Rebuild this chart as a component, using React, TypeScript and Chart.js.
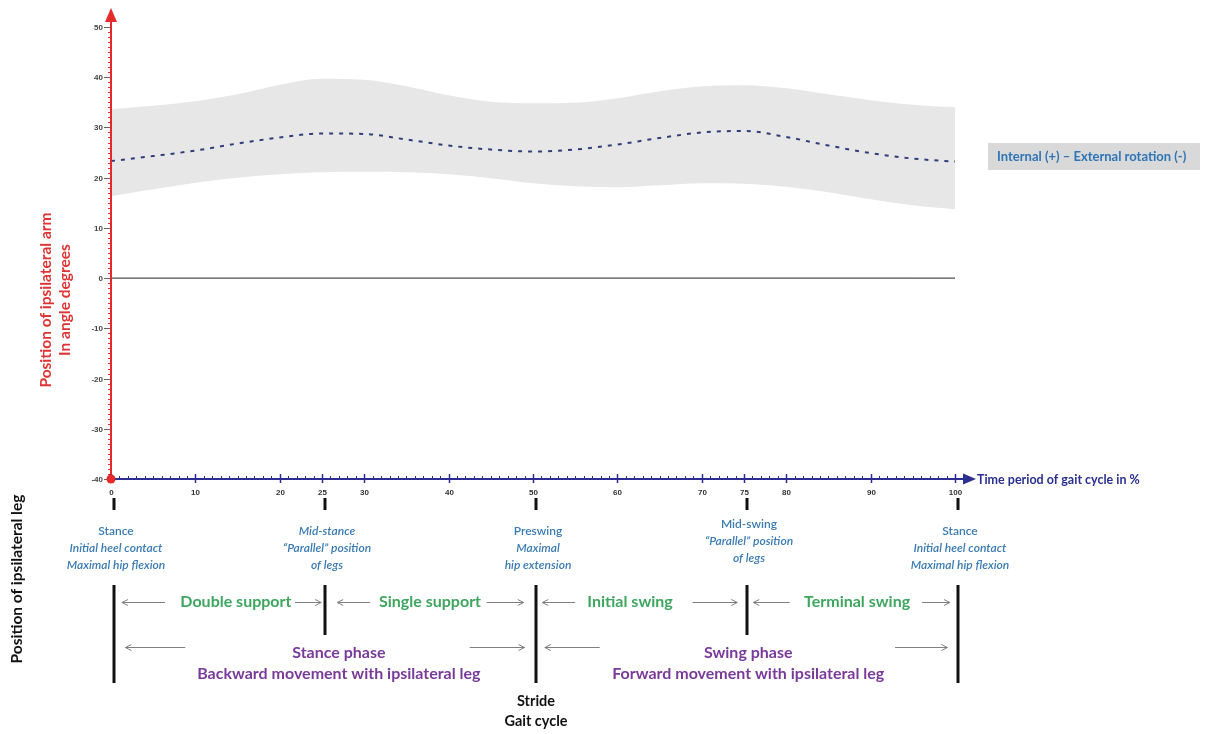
import React, { useEffect, useRef } from "react";
import { Chart, registerables } from "chart.js";

Chart.register(...registerables);

// ---- data ----
const gaitPercent = [0, 5, 10, 15, 20, 25, 30, 35, 40, 45, 50, 55, 60, 65, 70, 75, 80, 85, 90, 95, 100];
const meanRotation = [23.3, 24.3, 25.4, 26.8, 28.0, 28.8, 28.7, 27.6, 26.4, 25.6, 25.2, 25.6, 26.6, 27.9, 29.0, 29.3, 28.1, 26.4, 24.9, 23.8, 23.2];
const upperRotation = [33.6, 34.3, 35.2, 36.6, 38.5, 39.7, 39.5, 38.2, 36.4, 35.1, 34.8, 34.9, 35.8, 37.2, 38.2, 38.4, 37.8, 36.6, 35.4, 34.5, 34.0];
const lowerRotation = [16.3, 17.7, 19.0, 20.0, 20.7, 21.1, 21.2, 21.1, 20.7, 19.9, 18.9, 18.3, 18.1, 18.5, 18.9, 18.8, 18.2, 17.1, 15.7, 14.5, 13.7];

const yTickLabels = [50, 40, 30, 20, 10, 0, -10, -20, -30, -40];
const xTickLabels = [0, 10, 20, 25, 30, 40, 50, 60, 70, 75, 80, 90, 100];

const eventPositions = [0, 25, 50, 75, 100];
const eventTexts: { lines: string[]; italic: boolean[]; up: boolean }[] = [
  { lines: ["Stance", "Initial heel contact", "Maximal hip flexion"], italic: [false, true, true], up: false },
  { lines: ["Mid-stance", "\u201CParallel\u201D position", "of legs"], italic: [true, true, true], up: false },
  { lines: ["Preswing", "Maximal", "hip extension"], italic: [false, true, true], up: false },
  { lines: ["Mid-swing", "\u201CParallel\u201D position", "of legs"], italic: [false, true, true], up: true },
  { lines: ["Stance", "Initial heel contact", "Maximal hip flexion"], italic: [false, true, true], up: false },
];

const supportLabels = ["Double support", "Single support", "Initial swing", "Terminal swing"];
const supportCenters = [14.8, 37.8, 61.5, 88.4];
const phaseTitles = ["Stance phase", "Swing phase"];
const phaseSubtitles = ["Backward movement with ipsilateral leg", "Forward movement with ipsilateral leg"];
const phaseCenters = [27.0, 75.5];
const row1Arrows: [number, number][] = [[6.4, 1.3], [21.8, 24.9], [30.7, 26.8], [44.5, 48.9], [55.0, 51.1], [68.9, 74.2], [80.4, 76.1], [96.1, 99.4]];
const row2Arrows: [number, number][] = [[8.8, 1.7], [42.5, 49.0], [57.9, 51.4], [92.9, 99.1]];

const FONT = "Lato, 'Open Sans', sans-serif";

const decorPlugin = {
  id: "gaitDecor",
  afterDatasetsDraw(chart: any) {
    const { ctx, scales } = chart;
    const xs = scales.x;
    const ys = scales.y;
    const x0 = xs.getPixelForValue(0);
    const yb = ys.getPixelForValue(-40);
    const yTop = ys.getPixelForValue(50);
    const red = "#e52a2a";
    const navy = "#2b2f8f";
    ctx.save();

    // ---- y axis ----
    ctx.strokeStyle = red;
    ctx.lineWidth = 2;
    ctx.beginPath();
    ctx.moveTo(x0, yb);
    ctx.lineTo(x0, yTop - 12);
    ctx.stroke();
    ctx.fillStyle = red;
    ctx.beginPath();
    ctx.moveTo(x0, yTop - 19);
    ctx.lineTo(x0 - 6, yTop - 5);
    ctx.lineTo(x0 + 6, yTop - 5);
    ctx.closePath();
    ctx.fill();
    ctx.lineWidth = 1;
    for (let v = -40; v <= 50; v++) {
      const py = Math.round(ys.getPixelForValue(v)) + 0.5;
      ctx.strokeStyle = red;
      ctx.beginPath();
      ctx.moveTo(x0 - 3, py);
      ctx.lineTo(x0 + 1, py);
      ctx.stroke();
    }
    ctx.font = `bold 8px 'Liberation Sans', Arial, sans-serif`;
    ctx.textAlign = "right";
    ctx.textBaseline = "middle";
    yTickLabels.forEach((v) => {
      const py = Math.round(ys.getPixelForValue(v)) + 0.5;
      ctx.strokeStyle = "#666";
      ctx.beginPath();
      ctx.moveTo(x0 - 7, py);
      ctx.lineTo(x0 - 1, py);
      ctx.stroke();
      ctx.fillStyle = "#444";
      ctx.fillText(String(v), x0 - 8, py);
    });

    // ---- x axis ----
    const xEnd = xs.getPixelForValue(100);
    ctx.strokeStyle = navy;
    ctx.lineWidth = 2;
    ctx.beginPath();
    ctx.moveTo(x0, yb);
    ctx.lineTo(xEnd + 10, yb);
    ctx.stroke();
    ctx.fillStyle = navy;
    ctx.beginPath();
    ctx.moveTo(xEnd + 21, yb);
    ctx.lineTo(xEnd + 8, yb - 5.5);
    ctx.lineTo(xEnd + 8, yb + 5.5);
    ctx.closePath();
    ctx.fill();
    ctx.lineWidth = 1;
    for (let v = 0; v <= 100; v++) {
      const px = Math.round(xs.getPixelForValue(v)) + 0.5;
      ctx.beginPath();
      ctx.moveTo(px, yb - 3);
      ctx.lineTo(px, yb);
      ctx.stroke();
    }
    ctx.font = `bold 8px 'Liberation Sans', Arial, sans-serif`;
    ctx.textAlign = "center";
    ctx.textBaseline = "middle";
    xTickLabels.forEach((v) => {
      const px = Math.round(xs.getPixelForValue(v)) + 0.5;
      ctx.strokeStyle = navy;
      ctx.lineWidth = 1.5;
      ctx.beginPath();
      ctx.moveTo(px, yb - 5);
      ctx.lineTo(px, yb + 4);
      ctx.stroke();
      ctx.fillStyle = "#333";
      ctx.fillText(String(v), px, yb + 14);
    });
    ctx.fillStyle = navy;
    ctx.font = `bold 12.5px ${FONT}`;
    ctx.textAlign = "left";
    ctx.fillText("Time period of gait cycle in %", xEnd + 22, yb + 1);

    // origin dot
    ctx.fillStyle = red;
    ctx.beginPath();
    ctx.arc(x0, yb, 4.5, 0, Math.PI * 2);
    ctx.fill();

    // ---- axis titles ----
    ctx.save();
    ctx.translate(46, 300);
    ctx.rotate(-Math.PI / 2);
    ctx.fillStyle = "#e03434";
    ctx.font = `bold 15.5px ${FONT}`;
    ctx.textAlign = "center";
    ctx.fillText("Position of ipsilateral arm", 0, 0);
    ctx.fillText("In angle degrees", 0, 19);
    ctx.restore();

    ctx.save();
    ctx.translate(17, 579);
    ctx.rotate(-Math.PI / 2);
    ctx.fillStyle = "#111";
    ctx.font = `bold 15.5px ${FONT}`;
    ctx.textAlign = "center";
    ctx.fillText("Position of ipsilateral leg", 0, 0);
    ctx.restore();

    // ---- legend box ----
    ctx.fillStyle = "#d9d9d9";
    ctx.fillRect(988, 143, 212, 27);
    ctx.fillStyle = "#2e75b6";
    ctx.font = `bold 13px ${FONT}`;
    ctx.textAlign = "left";
    ctx.fillText("Internal (+) \u2013 External rotation (-)", 997, 157);

    // ---- event markers and texts ----
    eventPositions.forEach((v, i) => {
      const px = xs.getPixelForValue(v) + 3;
      ctx.fillStyle = "#111";
      ctx.fillRect(px - 1.5, 498, 3, 12);
      const t = eventTexts[i];
      const baseY = t.up ? 524 : 531;
      t.lines.forEach((ln, j) => {
        ctx.font = `${t.italic[j] ? "italic " : ""}600 12px ${FONT}`;
        ctx.fillStyle = "#3b7bb3";
        ctx.textAlign = "center";
        ctx.fillText(ln, px + 2, baseY + j * 17);
      });
      const tall = v % 50 === 0;
      ctx.fillStyle = "#111";
      ctx.fillRect(px - 1.5, 585, 3, tall ? 98 : 50);
    });

    // ---- arrows ----
    const arrow = (a: number, b: number, py: number) => {
      const pa = xs.getPixelForValue(a);
      const pb = xs.getPixelForValue(b);
      ctx.strokeStyle = "#7f7f7f";
      ctx.lineWidth = 1;
      ctx.beginPath();
      ctx.moveTo(pa, py);
      ctx.lineTo(pb, py);
      ctx.stroke();
      const d = pb > pa ? -1 : 1;
      ctx.beginPath();
      ctx.moveTo(pb + d * 6, py - 3);
      ctx.lineTo(pb, py);
      ctx.lineTo(pb + d * 6, py + 3);
      ctx.stroke();
    };
    row1Arrows.forEach(([a, b]) => arrow(a, b, 602.5));
    row2Arrows.forEach(([a, b]) => arrow(a, b, 647.5));

    ctx.textAlign = "center";
    ctx.font = `bold 16px ${FONT}`;
    ctx.fillStyle = "#3fa65f";
    supportLabels.forEach((s, i) => ctx.fillText(s, xs.getPixelForValue(supportCenters[i]), 602));
    ctx.font = `bold 16px ${FONT}`;
    ctx.fillStyle = "#7a3a9a";
    phaseTitles.forEach((s, i) => ctx.fillText(s, xs.getPixelForValue(phaseCenters[i]), 653));
    phaseSubtitles.forEach((s, i) => ctx.fillText(s, xs.getPixelForValue(phaseCenters[i]), 674));

    ctx.fillStyle = "#111";
    ctx.font = `bold 14.5px ${FONT}`;
    const pm = xs.getPixelForValue(50) + 3;
    ctx.fillText("Stride", pm, 701);
    ctx.fillText("Gait cycle", pm, 721);

    ctx.restore();
  },
};

export default function App() {
  const ref = useRef<HTMLCanvasElement | null>(null);
  useEffect(() => {
    if (!ref.current) return;
    const pts = (vals: number[]) => gaitPercent.map((x, i) => ({ x, y: vals[i] }));
    const chart = new Chart(ref.current, {
      type: "line",
      data: {
        datasets: [
          {
            label: "upper",
            data: pts(upperRotation),
            borderWidth: 0,
            borderColor: "rgba(0,0,0,0)",
            backgroundColor: "#e7e7e7",
            fill: "+1",
            pointRadius: 0,
            cubicInterpolationMode: "monotone",
            order: 3,
          },
          {
            label: "lower",
            data: pts(lowerRotation),
            borderWidth: 0,
            borderColor: "rgba(0,0,0,0)",
            backgroundColor: "#e7e7e7",
            fill: false,
            pointRadius: 0,
            cubicInterpolationMode: "monotone",
            order: 2,
          },
          {
            label: "Internal (+) \u2013 External rotation (-)",
            data: pts(meanRotation),
            borderWidth: 2,
            borderColor: "#2f3d78",
            borderDash: [4, 6],
            fill: false,
            pointRadius: 0,
            cubicInterpolationMode: "monotone",
            order: 0,
          },
          {
            label: "zero",
            data: [{ x: 0, y: 0 }, { x: 100, y: 0 }],
            borderWidth: 1,
            borderColor: "#222",
            fill: false,
            pointRadius: 0,
            order: 1,
          },
        ],
      },
      options: {
        animation: false,
        responsive: false,
        maintainAspectRatio: false,
        layout: { padding: { left: 111, right: 250, top: 27, bottom: 255 } },
        plugins: { legend: { display: false }, tooltip: { enabled: false } },
        scales: {
          x: { type: "linear", min: 0, max: 100, display: false },
          y: { type: "linear", min: -40, max: 50, display: false },
        },
      },
      plugins: [decorPlugin],
    } as any);
    return () => chart.destroy();
  }, []);
  return (
    <div style={{ position: "fixed", left: 0, top: 0, width: 1205, height: 734, background: "#fff" }}>
      <canvas ref={ref} width={1205} height={734} style={{ width: 1205, height: 734, display: "block" }} />
    </div>
  );
}
